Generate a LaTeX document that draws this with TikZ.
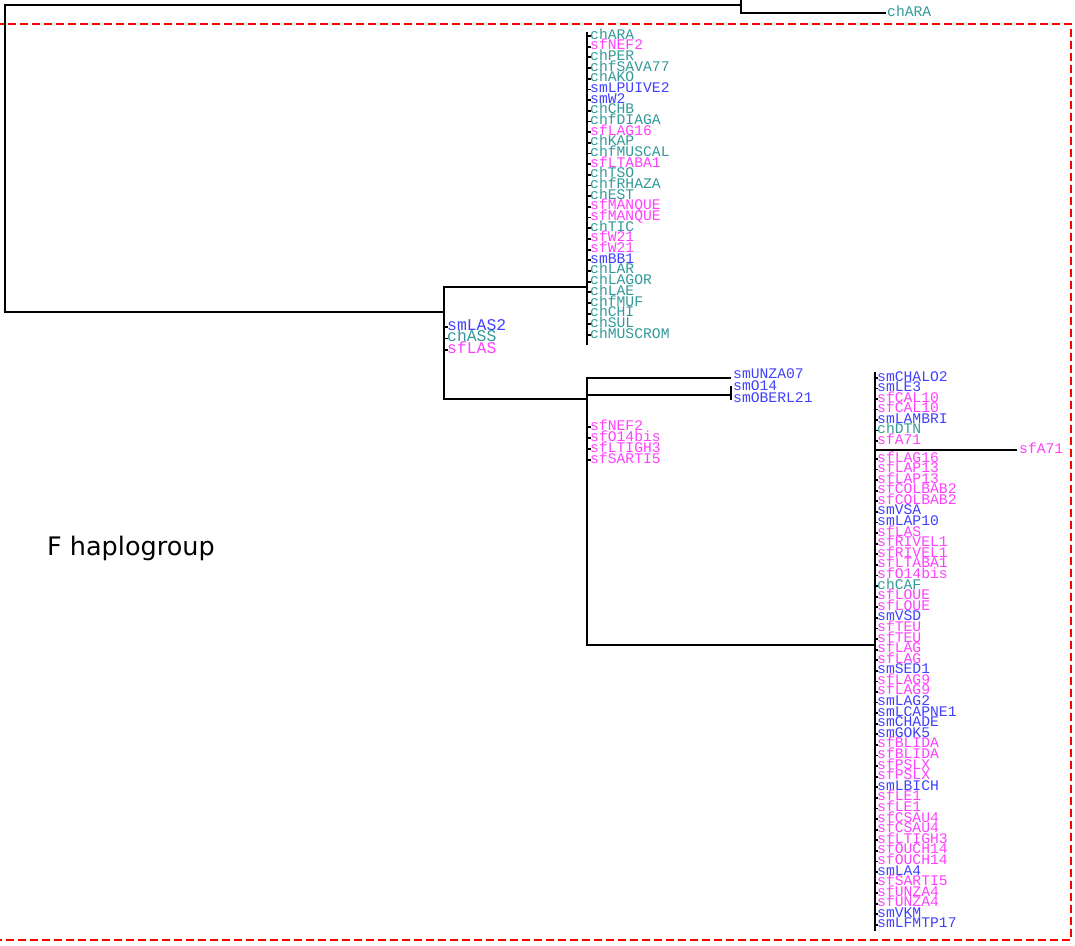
\documentclass[tikz,border=0pt]{standalone}
\usepackage{fontspec}
\newfontfamily\leaffont{Liberation Mono}
\newfontfamily\tagfont{DejaVu Sans}
\definecolor{chcol}{RGB}{51,153,153}
\definecolor{sfcol}{RGB}{255,64,255}
\definecolor{smcol}{RGB}{64,64,255}

\begin{document}
\begin{tikzpicture}[
    x=1pt, y=-1pt,
    branch/.style={line width=1.8pt, line cap=rect},
    frame/.style={red, line width=1.6pt, dash pattern=on 8pt off 4pt},
    leaf/.style={anchor=west, inner sep=0pt, text height=0.6em, text depth=0pt,
      text=#1col, font=\leaffont\fontsize{14.7}{14.7}\selectfont},
    bigleaf/.style={leaf=#1, font=\leaffont\fontsize{16.4}{16.4}\selectfont}
]
\useasboundingbox (0,0) rectangle (1075,945);

% inner nodes
\coordinate (root) at (5,160);
\coordinate (up) at (741,5);
\coordinate (upend) at (741,-6);
\coordinate (F) at (444,312);
\coordinate (c1) at (587,287);
\coordinate (c1top) at (587,33);
\coordinate (c1bot) at (587,344);
\coordinate (c2) at (587,399);
\coordinate (c2top) at (587,378);
\coordinate (c2bot) at (587,645);
\coordinate (c2b) at (731,395);
\coordinate (c3) at (875,645);
\coordinate (c3top) at (875,373);
\coordinate (c3bot) at (875,930);
\coordinate (c3a) at (875,450);

% upper part
\node[leaf=ch] (topARA) at (887,13) {chARA};
\draw[branch] (root) |- (up);
\draw[branch] (upend) |- ([xshift=-2pt]topARA.west);

% F haplogroup
\draw[frame] (-2,24) rectangle (1071,940);
\node[anchor=west, inner sep=0pt, font=\tagfont\fontsize{25.5}{25.5}\selectfont] (tag) at (47,548) {F haplogroup};
\draw[branch] (root) |- (F);
\draw[branch] (F) |- (c1);
\draw[branch] (F) |- (c2);
\foreach \t/\n [count=\i] in {sm/smLAS2, ch/chASS, sf/sfLAS} {
  \node[bigleaf=\t] (f\i) at (447,{327+(\i-1)*11.5}) {\n};
  \draw[branch] (f\i.west -| F) -- (f\i.west);
}

% cluster 1
\draw[branch] (c1top) -- (c1bot);
\foreach \t/\n [count=\i] in {ch/chARA, sf/sfNEF2, ch/chPER, ch/chfSAVA77, ch/chAKO,
    sm/smLPUIVE2, sm/smW2, ch/chCHB, ch/chfDIAGA, sf/sfLAG16, ch/chKAP, ch/chfMUSCAL,
    sf/sfLTABA1, ch/chTSO, ch/chfRHAZA, ch/chEST, sf/sfMANQUE, sf/sfMANQUE, ch/chTIC,
    sf/sfW21, sf/sfW21, sm/smBB1, ch/chLAR, ch/chLAGOR, ch/chLAE, ch/chfMUF, ch/chCHI,
    ch/chSUL, ch/chMUSCROM} {
  \node[leaf=\t] (a\i) at (590,{36+(\i-1)*10.68}) {\n};
  \draw[branch] (a\i.west -| c1) -- (a\i.west);
}

% cluster 2
\draw[branch] (c2top) -- (c2bot);
\node[leaf=sm] (u07) at (733,375) {smUNZA07};
\draw[branch] (c2top) -- ([xshift=-3pt]c2top -| u07.west);
\draw[branch] (c2b -| c2) -- (c2b);
\node[leaf=sm] (o14) at (733,387) {smO14};
\node[leaf=sm] (oberl) at (733,399) {smOBERL21};
\draw[branch] (c2b |- o14) -- (c2b |- oberl);
\foreach \t/\n [count=\i] in {sf/sfNEF2, sf/sfO14bis, sf/sfLTIGH3, sf/sfSARTI5} {
  \node[leaf=\t] (b\i) at (590,{427+(\i-1)*11}) {\n};
  \draw[branch] (b\i.west -| c2) -- (b\i.west);
}

% cluster 3
\draw[branch] (c2bot) -- (c3);
\draw[branch] (c3top) -- (c3bot);
\node[leaf=sf] (a71) at (1019,450) {sfA71};
\draw[branch] (c3a) -- ([xshift=-3pt]a71.west);
\foreach \t/\n [count=\i] in {sm/smCHALO2, sm/smLE3, sf/sfCAL10, sf/sfCAL10, sm/smLAMBRI,
    ch/chDTN, sf/sfA71} {
  \node[leaf=\t] (d\i) at (877,{378+(\i-1)*10.5}) {\n};
  \draw[branch] (d\i.west -| c3) -- (d\i.west);
}
\foreach \t/\n [count=\i] in {sf/sfLAG16, sf/sfLAP13, sf/sfLAP13, sf/sfCOLBAB2, sf/sfCOLBAB2,
    sm/smVSA, sm/smLAP10, sf/sfLAS, sf/sfRIVEL1, sf/sfRIVEL1, sf/sfLTABA1, sf/sfO14bis,
    ch/chCAF, sf/sfLOUE, sf/sfLOUE, sm/smVSD, sf/sfTEU, sf/sfTEU, sf/sfLAG, sf/sfLAG,
    sm/smSED1, sf/sfLAG9, sf/sfLAG9, sm/smLAG2, sm/smLCAPNE1, sm/smCHADE, sm/smGOK5,
    sf/sfBLIDA, sf/sfBLIDA, sf/sfPSLX, sf/sfPSLX, sm/smLBICH, sf/sfLE1, sf/sfLE1,
    sf/sfCSAU4, sf/sfCSAU4, sf/sfLTIGH3, sf/sfOUCH14, sf/sfOUCH14, sm/smLA4, sf/sfSARTI5,
    sf/sfUNZA4, sf/sfUNZA4, sm/smVKM, sm/smLFMTP17} {
  \node[leaf=\t] (e\i) at (877,{459+(\i-1)*10.59}) {\n};
  \draw[branch] (e\i.west -| c3) -- (e\i.west);
}
\end{tikzpicture}
\end{document}
